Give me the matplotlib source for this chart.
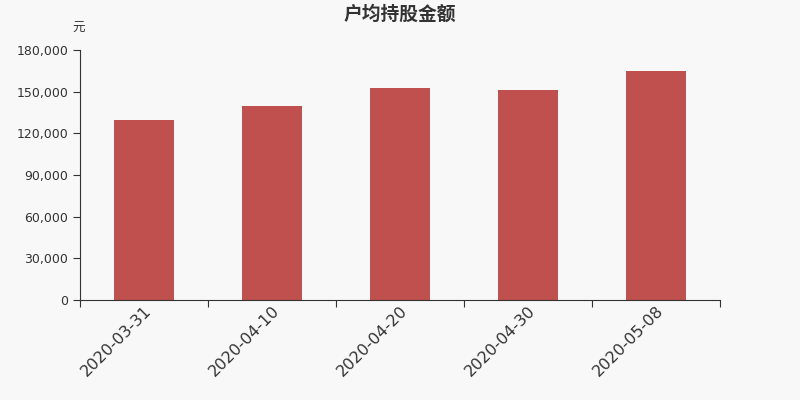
import numpy as np
import matplotlib.pyplot as plt
from matplotlib.ticker import FuncFormatter, FixedLocator

plt.rcParams['font.family'] = ['Noto Sans CJK SC', 'DejaVu Sans']

dates = ['2020-03-31', '2020-04-10', '2020-04-20', '2020-04-30', '2020-05-08']
amounts = [129400, 139700, 152400, 151200, 164900]
y_ticks = [0, 30000, 60000, 90000, 120000, 150000, 180000]

bg = '#f8f8f8'
bar_color = '#c0504d'
text_color = '#333333'

fig = plt.figure(figsize=(8, 4), dpi=100, facecolor=bg)
ax = fig.add_axes([0.1, 0.25, 0.8, 0.625], facecolor=bg)

x = np.arange(len(dates))
ax.bar(x, amounts, width=0.47, color=bar_color, zorder=2)

ax.set_xlim(-0.5, len(dates) - 0.5)
ax.set_ylim(0, 180000)
ax.set_yticks(y_ticks)
ax.yaxis.set_major_formatter(FuncFormatter(lambda v, p: f'{int(v):,}'))

# boundary ticks without labels, labels at bar centres
ax.xaxis.set_major_locator(FixedLocator(np.arange(-0.5, len(dates), 1.0)))
ax.xaxis.set_major_formatter(FuncFormatter(lambda v, p: ''))
ax.xaxis.set_minor_locator(FixedLocator(x))
ax.set_xticklabels(dates, minor=True, rotation=45, ha='right',
                   rotation_mode='anchor', fontsize=11.5, color=text_color,
                   family='DejaVu Sans')
ax.tick_params(axis='x', which='minor', length=0, pad=2)
ax.tick_params(axis='x', which='major', length=5, color=text_color)
ax.tick_params(axis='y', length=5, color=text_color, labelsize=9,
               labelcolor=text_color)
for lbl in ax.get_yticklabels():
    lbl.set_family('DejaVu Sans')

for s in ['top', 'right']:
    ax.spines[s].set_visible(False)
for s in ['left', 'bottom']:
    ax.spines[s].set_color(text_color)

fig.text(0.5, 0.965, '户均持股金额', ha='center', va='center', fontsize=13.5,
         fontweight='bold', color=text_color)
fig.text(0.098, 0.928, '元', ha='center', va='center', fontsize=9,
         color=text_color)

fig.savefig('out.png', facecolor=bg)
